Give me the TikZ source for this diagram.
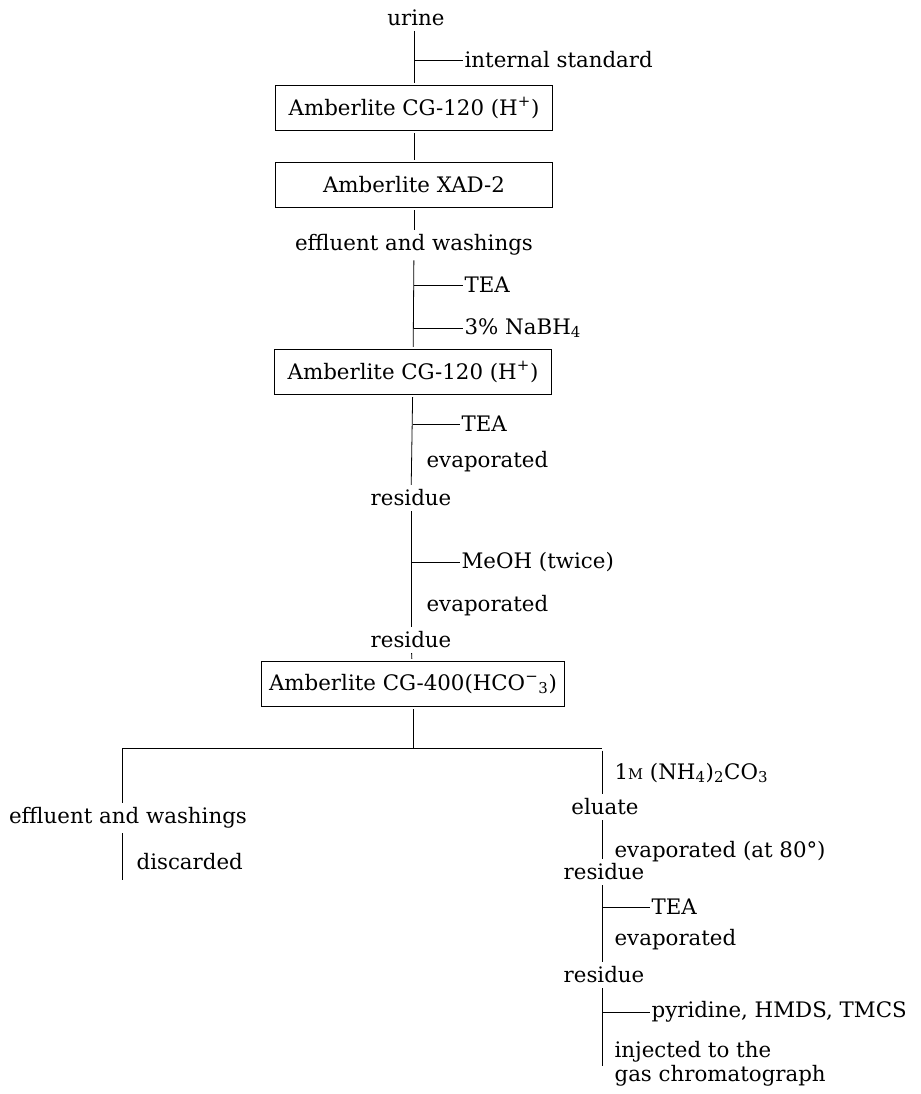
\documentclass[tikz,border=0pt]{standalone}
\usepackage{fontspec}
\setmainfont{DejaVu Serif}
\begin{document}
\begin{tikzpicture}[x=0.75pt,y=-0.75pt,
  every node/.style={font=\fontsize{16}{18}\selectfont, inner sep=2pt},
  lbl/.style={anchor=center},
  side/.style={anchor=west, inner sep=1pt},
  colbox/.style={draw, line width=0.6pt, minimum height=34pt, inner sep=4pt},
  flow/.style={line width=0.6pt, shorten <=1.5pt, shorten >=1.5pt},
  tick/.style={line width=0.6pt}]
\useasboundingbox (0,0) rectangle (920,1094);
% main chain
\node[lbl] (urine) at (416,18) {urine};
\node[colbox, minimum width=208pt] (b1) at (414,108) {Amberlite CG-120 (H\textsuperscript{+})};
\node[colbox, minimum width=208pt] (b2) at (414,185) {Amberlite XAD-2};
\node[lbl] (eff1) at (414,245) {effluent and washings};
\node[colbox, minimum width=208pt] (b3) at (413,372) {Amberlite CG-120 (H\textsuperscript{+})};
\node[lbl] (res1) at (411,498) {residue};
\node[lbl] (res2) at (411,640) {residue};
\node[colbox, minimum width=227pt] (b4) at (413,684) {Amberlite CG-400(HCO\textsuperscript{−}\textsubscript{3})};
\draw[flow] (urine.south -| b1) -- (b1);
\draw[flow] (b1) -- (b2);
\draw[flow] (b2) -- (eff1);
\draw[flow] (eff1) -- (b3);
\draw[flow] (b3) -- (res1);
\draw[flow] (res1) -- (res2);
% side additions on main chain
\coordinate (t1) at (414,60);
\node[side] (istd) at (463,60) {internal standard};
\draw[tick] (t1) -- (istd);
\coordinate (t2) at (414,285);
\node[side] (tea1) at (463,285) {TEA};
\draw[tick] (t2) -- (tea1);
\coordinate (t3) at (414,328);
\node[side] (nabh) at (463,328) {3\% NaBH\textsubscript{4}};
\draw[tick] (t3) -- (nabh);
\coordinate (t4) at (413,424);
\node[side] (tea2) at (460,424) {TEA};
\draw[tick] (t4) -- (tea2);
\node[side] (ev1) at (425,462) {evaporated};
\coordinate (t5) at (412,562);
\node[side] (meoh) at (460,562) {MeOH (twice)};
\draw[tick] (t5) -- (meoh);
\node[side] (ev2) at (425,606) {evaporated};
\draw[flow] (res2) -- (b4);
% split
\coordinate (jn) at (413,748);
\coordinate (jl) at (122,748);
\coordinate (jr) at (602,748);
\draw[flow, shorten >=0pt] (b4) -- (jn);
\draw[tick] (jl) -- (jr);
% left branch
\node[lbl] (eff2) at (128,818) {effluent and washings};
\node[side] (disc) at (135,862) {discarded};
\coordinate (le) at (122,880);
\draw[flow, shorten <=0pt] (jl) -- (jl |- eff2.north);
\draw[flow, shorten >=0pt] (jl |- eff2.south) -- (le);
% right branch
\node[side] (nh4) at (613,773) {1{\fontsize{11}{11}\selectfont M} (NH\textsubscript{4})\textsubscript{2}CO\textsubscript{3}};
\node[lbl] (eluate) at (605,807) {eluate};
\node[side] (ev3) at (613,852) {evaporated (at 80°)};
\node[lbl] (res3) at (604,872) {residue};
\coordinate (t6) at (602,907);
\node[side] (tea3) at (650,907) {TEA};
\draw[tick] (t6) -- (tea3);
\node[side] (ev4) at (613,940) {evaporated};
\node[lbl] (res4) at (604,975) {residue};
\coordinate (t7) at (602,1012);
\node[side] (pyr) at (650,1012) {pyridine, HMDS, TMCS};
\draw[tick] (t7) -- (pyr);
\node[side, align=left] (inj) at (613,1064) {injected to the\\gas chromatograph};
\coordinate (re) at (602,1066);
\draw[flow, shorten <=2pt] (jr) -- (jr |- eluate.north);
\draw[flow] (jr |- eluate.south) -- (jr |- res3.north);
\draw[flow] (jr |- res3.south) -- (jr |- res4.north);
\draw[flow, shorten >=0pt] (jr |- res4.south) -- (re);
\end{tikzpicture}
\end{document}
